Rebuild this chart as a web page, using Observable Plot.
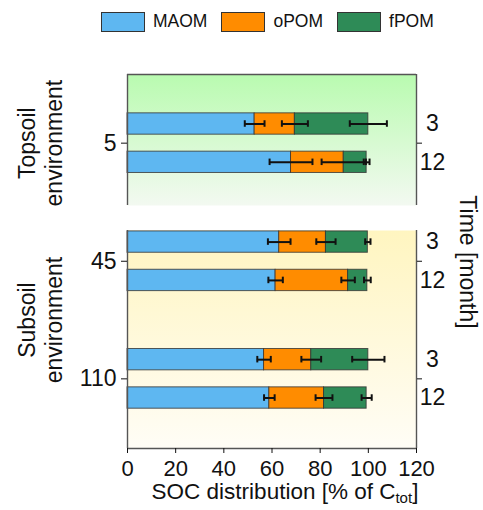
<!DOCTYPE html>
<html><head><meta charset="utf-8">
<script src="https://cdn.jsdelivr.net/npm/d3@7"></script>
<script src="https://cdn.jsdelivr.net/npm/@observablehq/plot@0.6"></script>
<style>
body{margin:0;background:#fff;font-family:"Liberation Sans",Arial,sans-serif;color:#111;}
#wrap{position:relative;width:483px;height:510px;overflow:hidden;background:#fff}
#legend{position:absolute;left:101px;top:11px;display:flex;align-items:center;font-size:17.5px;}
#legend .item{display:flex;align-items:center;margin-right:14px;}
#legend .sw{width:44px;height:20px;box-sizing:border-box;border:1px solid #333;margin-right:8px;}
.panel{position:absolute;left:0;}
#timeLabel{position:absolute;left:467px;top:262px;font-size:23px;white-space:nowrap;transform:translate(-50%,-50%) rotate(90deg);}
#xLabel{position:absolute;left:285px;top:492px;font-size:22.5px;white-space:nowrap;transform:translate(-50%,-50%);}
#xLabel sub{font-size:15px;vertical-align:-4px;line-height:0}
</style></head><body><div id="wrap">
<div id="legend"></div>
<div id="timeLabel">Time [month]</div>
<div id="xLabel">SOC distribution [% of C<sub>tot</sub>]</div>
</div>
<script>
// ---- data ----
const fractions = ["MAOM", "oPOM", "fPOM"];
const colors = ["#5eb7f1", "#ff8c00", "#2e8b57"];
const rowDepth = [5, 5, 45, 45, 110, 110];
const rowTime = [3, 12, 3, 12, 3, 12];
const MAOM = [52.8, 67.9, 63.0, 61.5, 56.7, 58.9];
const oPOM = [16.7, 21.9, 19.4, 30.1, 19.6, 22.7];
const fPOM = [30.5, 9.5, 17.4, 8.0, 23.7, 17.7];
const MAOM_err = [4.1, 8.9, 4.7, 3.0, 2.8, 2.2];
const oPOM_err = [5.4, 9.2, 4.0, 2.8, 4.1, 3.5];
const fPOM_err = [7.7, 1.2, 1.1, 1.4, 6.7, 2.1];
const xTicks = [0, 20, 40, 60, 80, 100, 120];
const panelLabels = ["Topsoil\nenvironment", "Subsoil\nenvironment"];
const panelDepths = [[5], [45, 110]];

const series = [MAOM, oPOM, fPOM];
const errSeries = [MAOM_err, oPOM_err, fPOM_err];

const OFF = 10.6, HALF = 5.9, CAP = 1.8;
const yc = d => d.depth + (d.time === 3 ? -OFF : OFF);

const rows = rowDepth.map((d, i) => ({depth: d, time: rowTime[i]}));
const segs = [], errs = [];
rows.forEach((r, i) => {
  let c = 0;
  fractions.forEach((f, k) => {
    const v = series[k][i];
    segs.push({...r, fraction: f, x1: c, x2: c + v});
    c += v;
    errs.push({...r, fraction: f, x: c, err: errSeries[k][i]});
  });
});

// legend
const leg = document.getElementById("legend");
fractions.forEach((f, k) => {
  const it = document.createElement("div"); it.className = "item";
  const sw = document.createElement("div"); sw.className = "sw"; sw.style.background = colors[k];
  const tx = document.createElement("span"); tx.textContent = f;
  it.appendChild(sw); it.appendChild(tx); leg.appendChild(it);
});

function panel(p, o) {
  const ds = panelDepths[p];
  const sg = segs.filter(s => ds.includes(s.depth));
  const er = errs.filter(s => ds.includes(s.depth));
  const rs = rows.filter(s => ds.includes(s.depth));
  const gid = "grad" + p;
  const marks = [
    () => {
      const defs = document.createElementNS("http://www.w3.org/2000/svg", "defs");
      defs.innerHTML = `<linearGradient id="${gid}" x1="0" y1="0" x2="0" y2="1"><stop offset="0" stop-color="${o.g0}"/><stop offset="1" stop-color="${o.g1}"/></linearGradient>`;
      return defs;
    },
    Plot.frame({fill: `url(#${gid})`, stroke: "none"}),
    Plot.rect(sg, {x1: "x1", x2: "x2", y1: d => yc(d) - HALF, y2: d => yc(d) + HALF, fill: "fraction", stroke: "#333", strokeWidth: 1, strokeOpacity: 0.8}),
    Plot.ruleY(er, {y: yc, x1: d => d.x - d.err, x2: d => d.x + d.err, stroke: "#111", strokeWidth: 2}),
    Plot.ruleX(er, {x: d => d.x - d.err, y1: d => yc(d) - CAP, y2: d => yc(d) + CAP, stroke: "#111", strokeWidth: 2}),
    Plot.ruleX(er, {x: d => d.x + d.err, y1: d => yc(d) - CAP, y2: d => yc(d) + CAP, stroke: "#111", strokeWidth: 2}),
    Plot.ruleX([0, 120], {stroke: "#555", strokeWidth: 1.4}),
    Plot.ruleY([o.spine], {stroke: "#555", strokeWidth: 1.4}),
    Plot.axisY(ds, {anchor: "left", tickSize: 6, tickPadding: 5, fontSize: 23, label: null, tickFormat: d => String(d)}),
    Plot.axisY(ds, {anchor: "right", tickSize: 5, label: null, tickFormat: () => ""}),
    Plot.text(rs, {y: yc, text: d => String(d.time), frameAnchor: "right", dx: 16, textAnchor: "middle", fontSize: 23}),
    Plot.text([panelLabels[p]], {y: [d3.mean(ds)], text: d => d, frameAnchor: "left", dx: -88, rotate: -90, textAnchor: "middle", lineAnchor: "middle", lineHeight: 1.18, fontSize: 23})
  ];
  if (o.showX) marks.push(Plot.axisX({ticks: xTicks, tickSize: 5, tickPadding: 7, fontSize: 22, label: null}));
  return Plot.plot({
    width: 483, height: o.height,
    marginLeft: 127, marginRight: 67, marginTop: o.mt, marginBottom: o.mb,
    style: {fontFamily: "'Liberation Sans', Arial, sans-serif", fontSize: "22px", background: "transparent", overflow: "visible", color: "#111"},
    x: {domain: [0, 120], axis: o.showX ? undefined : null},
    y: {domain: o.domain, reverse: true},
    color: {domain: fractions, range: colors},
    marks
  });
}

const wrap = document.getElementById("wrap");
const top1 = panel(0, {height: 170, mt: 34, mb: 5, domain: [-33, 39.5], spine: -33, showX: false, g0: "#b9fbb0", g1: "#f3f9f1"});
top1.classList.add("panel"); top1.style.top = "40px";
const bot = panel(1, {height: 300, mt: 20, mb: 62, domain: [28, 148.5], spine: 148.5, showX: true, g0: "#fff5c0", g1: "#fffdf6"});
bot.classList.add("panel"); bot.style.top = "210px";
wrap.appendChild(top1); wrap.appendChild(bot);
</script></body></html>
